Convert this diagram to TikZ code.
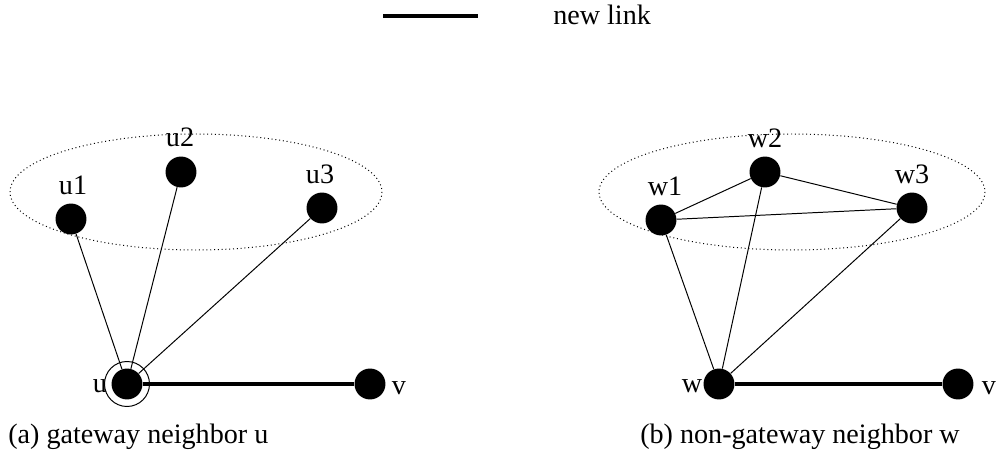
\documentclass[tikz,border=0pt]{standalone}
\usepackage{fontspec}
\setmainfont{Liberation Serif}
\usepackage{tikz}
\usetikzlibrary{arrows.meta,positioning,calc}

\begin{document}
\begin{tikzpicture}[
    x=0.025cm, y=-0.025cm,
    font=\fontsize{20}{24}\selectfont,
    vtx/.style={circle, fill=black, inner sep=0pt, minimum size=22},
    lbl/.style={inner sep=0pt},
    edge/.style={line width=0.7pt},
    newlink/.style={line width=3.2pt},
    region/.style={dotted, line width=0.7pt}
]
    \useasboundingbox (0,0) rectangle (996,452);

    % legend
    \coordinate (l1) at (383,16);
    \coordinate (l2) at (478,16);
    \draw[newlink] (l1) -- (l2);
    \node[lbl, anchor=west] (leg) at (553,15) {new link};

    % (a) gateway neighbor
    \draw[region] (196,192) ellipse [x radius=186, y radius=58];
    \node[vtx] (u1) at (71,219) {};
    \node[vtx] (u2) at (181,172) {};
    \node[vtx] (u3) at (322,208) {};
    \node[vtx] (u) at (127,384) {};
    \node[vtx] (v1) at (370,384) {};
    \node[circle, draw, line width=0.7pt, minimum size=32, inner sep=0pt] (ring) at (u) {};
    \node[lbl] at (73,185) {u1};
    \node[lbl] at (180,137) {u2};
    \node[lbl] at (320,174) {u3};
    \node[lbl] at (100,386) {u};
    \node[lbl] at (399,388) {v};
    \draw[edge] (u) -- (u1);
    \draw[edge] (u) -- (u2);
    \draw[edge] (u) -- (u3);
    \draw[newlink] (u) -- (v1);
    \node[lbl, anchor=west] (capa) at (8,437) {(a) gateway neighbor u};

    % (b) non-gateway neighbor
    \draw[region] (792,192) ellipse [x radius=193, y radius=58];
    \node[vtx] (w1) at (661,220) {};
    \node[vtx] (w2) at (765,172) {};
    \node[vtx] (w3) at (912,208) {};
    \node[vtx] (w) at (719,384) {};
    \node[vtx] (v2) at (958,384) {};
    \node[lbl] at (665,186) {w1};
    \node[lbl] at (765,138) {w2};
    \node[lbl] at (912,174) {w3};
    \node[lbl] at (692,386) {w};
    \node[lbl] at (989,388) {v};
    \draw[edge] (w1) -- (w2);
    \draw[edge] (w1) -- (w3);
    \draw[edge] (w2) -- (w3);
    \draw[edge] (w) -- (w1);
    \draw[edge] (w) -- (w2);
    \draw[edge] (w) -- (w3);
    \draw[newlink] (w) -- (v2);
    \node[lbl, anchor=west] (capb) at (640,437) {(b) non-gateway neighbor w};
\end{tikzpicture}
\end{document}
